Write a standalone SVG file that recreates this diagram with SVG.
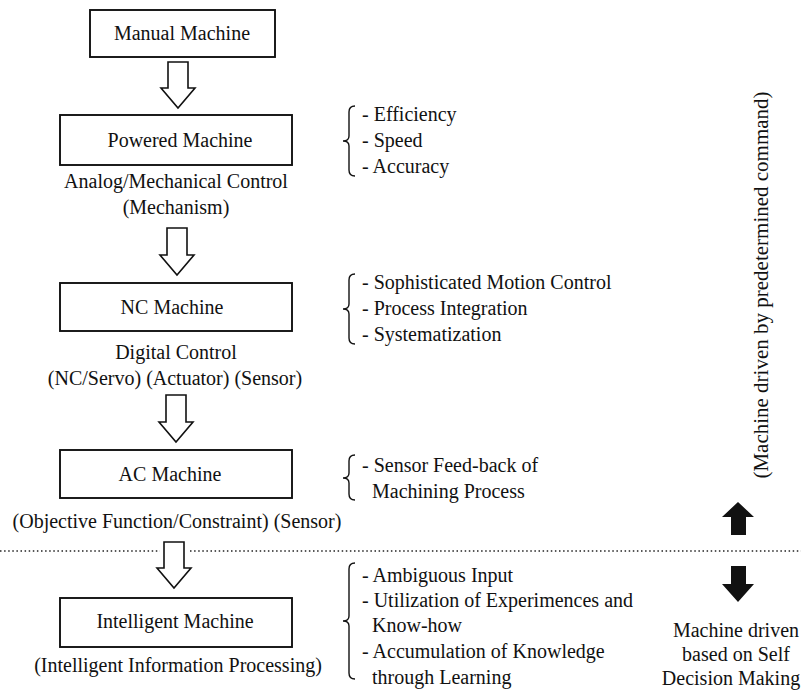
<svg xmlns="http://www.w3.org/2000/svg" width="801" height="690" viewBox="0 0 801 690">
<style>
text{font-family:"Liberation Serif","Times New Roman",serif;font-size:20px;fill:#111}
.c{text-anchor:middle}
.v{font-size:21px}
.box{fill:#fff;stroke:#111;stroke-width:1.9}
.harrow{fill:#fff;stroke:#111;stroke-width:1.6;stroke-linejoin:miter}
.brace{fill:none;stroke:#111;stroke-width:1.4}
.dot{stroke:#222;stroke-width:1.6;stroke-dasharray:1.5 2.6;fill:none}
</style>
<rect width="801" height="690" fill="#fff"/>

<g id="connectors">
<polygon class="harrow" points="168,62 188,62 188,88 195,88 178,108 161,88 168,88"/>
<polygon class="harrow" points="167,228 187,228 187,255 194,255 177,275 160,255 167,255"/>
<polygon class="harrow" points="166,395 186,395 186,422 193,422 176,442 159,422 166,422"/>
<polygon class="harrow" points="164,542 184,542 184,568 191,568 174,588 157,568 164,568"/>
</g>

<g id="divider">
<line class="dot" x1="0" y1="551" x2="160" y2="551"/>
<line class="dot" x1="190" y1="551" x2="801" y2="551"/>
</g>

<g id="manual">
<rect class="box" x="90" y="10" width="185" height="47"/>
<text class="c" x="182" y="40">Manual Machine</text>
</g>

<g id="powered">
<rect class="box" x="60" y="115" width="232" height="50"/>
<text class="c" x="180" y="147">Powered Machine</text>
<text class="c" x="176" y="188">Analog/Mechanical Control</text>
<text class="c" x="176" y="214">(Mechanism)</text>
</g>

<g id="nc">
<rect class="box" x="60" y="283" width="232" height="48"/>
<text class="c" x="172" y="314">NC Machine</text>
<text class="c" x="176" y="359">Digital Control</text>
<text class="c" x="175" y="385">(NC/Servo) (Actuator) (Sensor)</text>
</g>

<g id="ac">
<rect class="box" x="60" y="450" width="232" height="48"/>
<text class="c" x="170" y="481">AC Machine</text>
<text class="c" x="177" y="528">(Objective Function/Constraint) (Sensor)</text>
</g>

<g id="intelligent">
<rect class="box" x="60" y="598" width="232" height="49"/>
<text class="c" x="175" y="628">Intelligent Machine</text>
<text class="c" x="178" y="672">(Intelligent Information Processing)</text>
</g>

<g id="features-powered">
<path class="brace" d="M355,106 Q349,106 349,112 L349,136 Q349,141 343,141 Q349,141 349,146 L349,170 Q349,176 355,176"/>
<text x="362" y="121">- Efficiency</text>
<text x="362" y="147">- Speed</text>
<text x="362" y="173">- Accuracy</text>
</g>

<g id="features-nc">
<path class="brace" d="M355,274 Q349,274 349,280 L349,304 Q349,309 343,309 Q349,309 349,314 L349,338 Q349,344 355,344"/>
<text x="362" y="289">- Sophisticated Motion Control</text>
<text x="362" y="315">- Process Integration</text>
<text x="362" y="341">- Systematization</text>
</g>

<g id="features-ac">
<path class="brace" d="M355,455 Q349,455 349,461 L349,473 Q349,478 343,478 Q349,478 349,483 L349,494 Q349,500 355,500"/>
<text x="362" y="472">- Sensor Feed-back of</text>
<text x="372" y="498">Machining Process</text>
</g>

<g id="features-intelligent">
<path class="brace" d="M355,563 Q349,563 349,569 L349,616 Q349,621 343,621 Q349,621 349,626 L349,673 Q349,679 355,679"/>
<text x="362" y="582">- Ambiguous Input</text>
<text x="362" y="607">- Utilization of Experimences and</text>
<text x="372" y="632">Know-how</text>
<text x="362" y="658">- Accumulation of Knowledge</text>
<text x="372" y="684">through Learning</text>
</g>

<g id="predetermined">
<text class="c v" transform="translate(768,285) rotate(-90)">(Machine driven by predetermined command)</text>
<polygon fill="#111" points="738,502 754,517 746,517 746,535 731,535 731,517 722,517"/>
</g>

<g id="self-decision">
<polygon fill="#111" points="731,566 746,566 746,584 754,584 738,602 722,584 731,584"/>
<text class="c" x="736" y="637">Machine driven</text>
<text class="c" x="736" y="661">based on Self</text>
<text class="c" x="731" y="685">Decision Making</text>
</g>
</svg>
